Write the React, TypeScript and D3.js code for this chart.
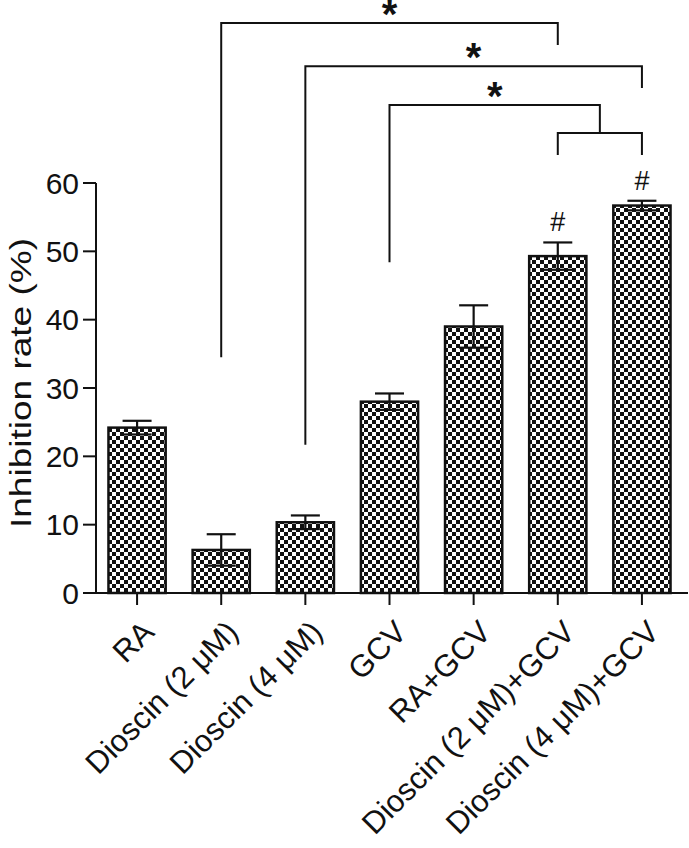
import React from "react";
import * as d3 from "d3";

const categories = [
  "RA",
  "Dioscin (2 μM)",
  "Dioscin (4 μM)",
  "GCV",
  "RA+GCV",
  "Dioscin (2 μM)+GCV",
  "Dioscin (4 μM)+GCV",
];
const values = [24.2, 6.3, 10.35, 28.0, 39.0, 49.3, 56.7];
const errors = [1.0, 2.3, 1.0, 1.2, 3.1, 2.0, 0.7];
const hashMarks = ["", "", "", "", "", "#", "#"];
const yTicks = [0, 10, 20, 30, 40, 50, 60];

// significance brackets: [leftIndex, rightIndex, top, leftEnd, rightEnd]
const bracketLeft = [1, 2];
const bracketRight = [5, 6];
const bracketTop = [83.4, 77.1];
const bracketLeftEnd = [34.5, 21.7];
const bracketRightEnd = [80.2, 73.9];
// nested bracket: GCV vs combined group (5,6)
const nestedLeft = 3;
const nestedGroup = [5, 6];
const nestedTop = 71.4;
const nestedLeftEnd = 48.4;
const nestedMid = 67.3;
const nestedGroupEnd = 64.1;

const W = 689;
const H = 848;
const FONT = "'Liberation Sans', Arial, Helvetica, sans-serif";

export default function App() {
  const x = d3
    .scaleBand<number>()
    .domain(d3.range(categories.length))
    .range([95, 684])
    .paddingInner(0.32)
    .paddingOuter(0.16);
  const y = d3.scaleLinear().domain([0, 60]).range([593, 183]);
  const cx = (i: number) => (x(i) as number) + x.bandwidth() / 2;
  const capW = 29;
  const axisX = 96;

  const bracketPath = (l: number, r: number, top: number, le: number, re: number) =>
    `M${cx(l)},${y(le)}V${y(top)}H${cx(r)}V${y(re)}`;

  const nestedRightX = (cx(nestedGroup[0]) + cx(nestedGroup[1])) / 2;

  return (
    <svg
      width={W}
      height={H}
      style={{ position: "absolute", left: 0, top: 0, background: "white" }}
      fontFamily={FONT}
    >
      <defs>
        <pattern id="checker" width={8} height={8} patternUnits="userSpaceOnUse">
          <rect width={8} height={8} fill="white" />
          <rect width={4} height={4} fill="#111" />
          <rect x={4} y={4} width={4} height={4} fill="#111" />
        </pattern>
      </defs>

      {/* bars */}
      {values.map((v, i) => (
        <rect
          key={"bar" + i}
          x={x(i)}
          y={y(v)}
          width={x.bandwidth()}
          height={y(0) - y(v)}
          fill="url(#checker)"
          stroke="#111"
          strokeWidth={2.5}
        />
      ))}

      {/* error bars */}
      {values.map((v, i) => (
        <g key={"err" + i} stroke="#111" strokeWidth={2.2} fill="none">
          <line x1={cx(i)} x2={cx(i)} y1={y(v + errors[i])} y2={y(v - errors[i])} />
          <line x1={cx(i) - capW / 2} x2={cx(i) + capW / 2} y1={y(v + errors[i])} y2={y(v + errors[i])} />
          <line x1={cx(i) - capW / 2} x2={cx(i) + capW / 2} y1={y(v - errors[i])} y2={y(v - errors[i])} />
        </g>
      ))}

      {/* hash marks */}
      {values.map((v, i) =>
        hashMarks[i] ? (
          <text
            key={"hash" + i}
            x={cx(i)}
            y={y(v + errors[i]) - 11}
            textAnchor="middle"
            fontSize={27}
            fill="#111"
          >
            {hashMarks[i]}
          </text>
        ) : null
      )}

      {/* y axis */}
      <g stroke="#111" strokeWidth={2}>
        <line x1={axisX} x2={axisX} y1={y(60)} y2={y(0)} />
        {yTicks.map((t) => (
          <line key={"yt" + t} x1={axisX - 13} x2={axisX} y1={y(t)} y2={y(t)} />
        ))}
      </g>
      {yTicks.map((t) => (
        <text
          key={"yl" + t}
          x={79}
          y={y(t)}
          dy="0.36em"
          textAnchor="end"
          fontSize={30}
          fill="#111"
        >
          {t}
        </text>
      ))}
      <text
        transform={`translate(20,383) rotate(-90)`}
        textAnchor="middle"
        dy="0.36em"
        fontSize={30}
        fill="#111"
        textLength={290}
        lengthAdjust="spacingAndGlyphs"
      >
        Inhibition rate (%)
      </text>

      {/* x axis */}
      <g stroke="#111" strokeWidth={2}>
        <line x1={axisX} x2={688} y1={y(0)} y2={y(0)} />
        {categories.map((c, i) => (
          <line key={"xt" + i} x1={cx(i)} x2={cx(i)} y1={y(0)} y2={y(0) + 12} />
        ))}
      </g>
      {categories.map((c, i) => (
        <text
          key={"xl" + i}
          transform={`translate(${cx(i) + 11},${626}) rotate(-45)`}
          textAnchor="end"
          dy="0.36em"
          fontSize={31}
          fill="#111"
        >
          {c}
        </text>
      ))}

      {/* significance brackets */}
      <g stroke="#111" strokeWidth={2} fill="none">
        {bracketLeft.map((l, k) => (
          <path
            key={"br" + k}
            d={bracketPath(l, bracketRight[k], bracketTop[k], bracketLeftEnd[k], bracketRightEnd[k])}
          />
        ))}
        <path
          d={`M${cx(nestedLeft)},${y(nestedLeftEnd)}V${y(nestedTop)}H${nestedRightX}V${y(nestedMid)}`}
        />
        <path
          d={`M${cx(nestedGroup[0])},${y(nestedGroupEnd)}V${y(nestedMid)}H${cx(nestedGroup[1])}V${y(nestedGroupEnd)}`}
        />
      </g>
      {bracketLeft.map((l, k) => (
        <text
          key={"st" + k}
          x={(cx(l) + cx(bracketRight[k])) / 2}
          y={y(bracketTop[k]) + 5}
          textAnchor="middle"
          fontSize={40}
          fontWeight="bold"
          fill="#111"
        >
          *
        </text>
      ))}
      <text
        x={(cx(nestedLeft) + nestedRightX) / 2}
        y={y(nestedTop) + 5}
        textAnchor="middle"
        fontSize={40}
        fontWeight="bold"
        fill="#111"
      >
        *
      </text>
    </svg>
  );
}
